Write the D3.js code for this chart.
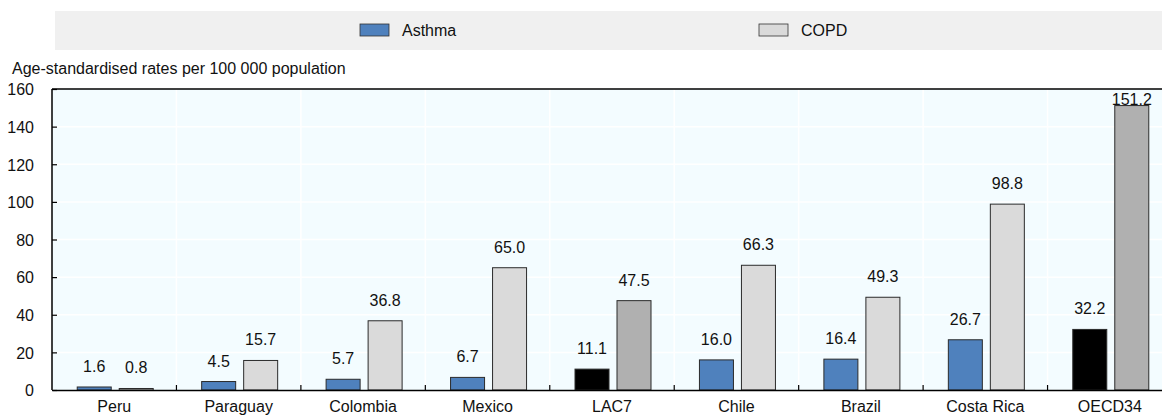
<!DOCTYPE html>
<html>
<head>
<meta charset="utf-8">
<script src="https://cdn.jsdelivr.net/npm/d3@7"></script>
<style>
  body { margin: 0; background: #fff; }
  text { font-family: "Liberation Sans", Arial, sans-serif; font-size: 16px; fill: #111; }
</style>
</head>
<body>
<div id="chart"></div>
<script>
// data
const categories = ["Peru", "Paraguay", "Colombia", "Mexico", "LAC7", "Chile", "Brazil", "Costa Rica", "OECD34"];
const asthma = [1.6, 4.5, 5.7, 6.7, 11.1, 16.0, 16.4, 26.7, 32.2];
const copd = [0.8, 15.7, 36.8, 65.0, 47.5, 66.3, 49.3, 98.8, 151.2];
const highlighted = ["LAC7", "OECD34"];
const yTicks = [0, 20, 40, 60, 80, 100, 120, 140, 160];
const seriesNames = ["Asthma", "COPD"];

const width = 1162;
const height = 416;
const marginTop = 89;
const marginBottom = 26;
const marginLeft = 52;
const plotRight = 1172; // the chart is cropped on the right

const colors = {
  asthma: "#4f81bd",
  copd: "#dadada",
  asthmaHi: "#000000",
  copdHi: "#b0b0b0"
};

const svg = d3.select("#chart").append("svg")
  .attr("width", width)
  .attr("height", height)
  .attr("viewBox", [0, 0, width, height]);

// legend band
svg.append("rect")
  .attr("x", 55).attr("y", 11)
  .attr("width", width - 55).attr("height", 39)
  .attr("fill", "#f0f0f0");

const legendX = d3.scalePoint(seriesNames, [360, 759]);
const legend = svg.append("g").selectAll("g")
  .data(seriesNames)
  .join("g")
  .attr("transform", d => `translate(${legendX(d)},24)`);
legend.append("rect")
  .attr("width", 29).attr("height", 12)
  .attr("fill", (d, i) => i === 0 ? colors.asthma : colors.copd)
  .attr("stroke", "#333").attr("stroke-width", 0.8);
legend.append("text")
  .attr("x", 42).attr("y", 12)
  .text(d => d);

// scales
const x = d3.scaleBand(categories, [marginLeft, plotRight]);
const y = d3.scaleLinear([0, 160], [height - marginBottom, marginTop]);

// plot background
svg.append("rect")
  .attr("x", marginLeft).attr("y", marginTop)
  .attr("width", plotRight - marginLeft)
  .attr("height", y(0) - marginTop)
  .attr("fill", "#f3fcff");

// grid lines
svg.append("g")
  .selectAll("line")
  .data(yTicks.slice(1, -1))
  .join("line")
  .attr("x1", marginLeft).attr("x2", plotRight)
  .attr("y1", d => y(d)).attr("y2", d => y(d))
  .attr("stroke", "#fff").attr("stroke-width", 1.5);
svg.append("g")
  .selectAll("line")
  .data(categories.slice(1))
  .join("line")
  .attr("x1", d => x(d)).attr("x2", d => x(d))
  .attr("y1", marginTop).attr("y2", y(0))
  .attr("stroke", "#fff").attr("stroke-width", 1.5);

// bars
const barW = 34, gap = 8;
const bars = svg.append("g");
categories.forEach((c, i) => {
  const hi = highlighted.includes(c);
  const cx = x(c) + x.bandwidth() / 2 + 1;
  const vals = [asthma[i], copd[i]];
  vals.forEach((v, j) => {
    const bx = j === 0 ? cx - gap / 2 - barW : cx + gap / 2;
    const fill = j === 0 ? (hi ? colors.asthmaHi : colors.asthma) : (hi ? colors.copdHi : colors.copd);
    bars.append("rect")
      .attr("x", bx).attr("y", y(v))
      .attr("width", barW).attr("height", y(0) - y(v))
      .attr("fill", fill)
      .attr("stroke", "#2b2b2b").attr("stroke-width", 1);
    bars.append("text")
      .attr("x", bx + barW / 2)
      .attr("y", Math.max(y(v) - 15, marginTop + 16))
      .attr("text-anchor", "middle")
      .text(v.toFixed(1));
  });
});

// y axis
svg.append("g")
  .attr("transform", `translate(${marginLeft},0)`)
  .call(d3.axisRight(y).tickValues(yTicks).tickSize(5).tickFormat(d3.format("d")))
  .call(g => g.select(".domain").attr("stroke", "#000").attr("stroke-width", 1.5).attr("d", `M0,${marginTop}V${y(0)}`))
  .call(g => g.selectAll(".tick line").attr("stroke", "#000").attr("stroke-width", 1.2))
  .call(g => g.selectAll(".tick text")
    .attr("x", -18).attr("dy", "0.36em").attr("text-anchor", "end")
    .attr("font-size", null).attr("fill", null));

// top border
svg.append("line")
  .attr("x1", marginLeft).attr("x2", width)
  .attr("y1", marginTop).attr("y2", marginTop)
  .attr("stroke", "#000").attr("stroke-width", 1.5);

// x axis
svg.append("g")
  .attr("transform", `translate(0,${y(0)})`)
  .call(d3.axisBottom(x).tickSize(0))
  .call(g => g.attr("font-size", null).attr("font-family", null))
  .call(g => g.select(".domain").attr("stroke", "#000").attr("stroke-width", 1.5))
  .call(g => g.selectAll(".tick text")
    .attr("y", 22).attr("dy", null).attr("fill", null));
svg.append("g")
  .selectAll("line")
  .data(categories.slice(1))
  .join("line")
  .attr("x1", d => x(d)).attr("x2", d => x(d))
  .attr("y1", y(0)).attr("y2", y(0) - 5)
  .attr("stroke", "#000").attr("stroke-width", 1.2);

// axis title
svg.append("text")
  .attr("x", 12).attr("y", 74)
  .text("Age-standardised rates per 100 000 population");
</script>
</body>
</html>
